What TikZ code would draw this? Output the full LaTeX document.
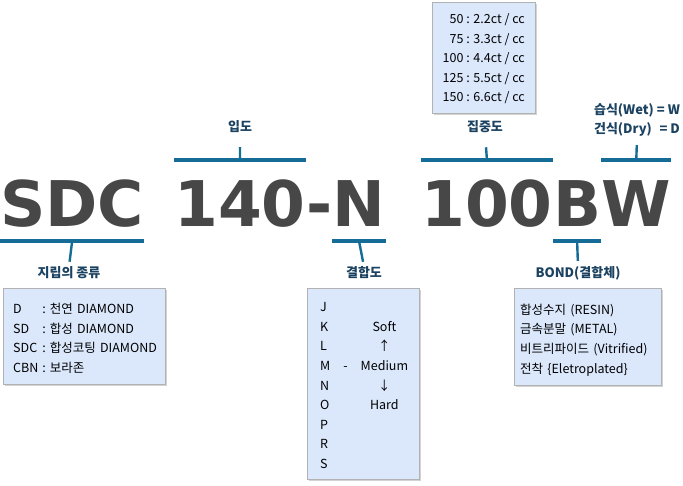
\documentclass[tikz,border=0pt]{standalone}
\usepackage{fontspec}
\setmainfont{Noto Sans CJK KR}
\newfontfamily\codefont{DejaVu Sans}
\usetikzlibrary{shadows}
\definecolor{barblue}{RGB}{21,108,150}
\definecolor{tagblue}{RGB}{27,66,97}
\definecolor{boxblue}{RGB}{219,232,252}
\definecolor{codegray}{RGB}{71,71,71}

\begin{document}
\begin{tikzpicture}[
    x=1pt, y=-1pt,
    code/.style={font=\codefont\bfseries\fontsize{63}{63}\selectfont, text=codegray, inner sep=0pt, anchor=base west},
    bar/.style={barblue, line width=3.2pt},
    tick/.style={barblue, line width=2.4pt},
    tag/.style={font=\bfseries\fontsize{13}{19}\selectfont, text=tagblue, inner sep=0pt, align=center},
    infobox/.style={draw=black!30, fill=boxblue, anchor=north west, inner sep=0pt, font=\fontsize{12.5}{19.6}\selectfont,
        drop shadow={shadow xshift=1.5pt, shadow yshift=-1.5pt, opacity=0.35}},
]

\useasboundingbox (0,0) rectangle (683,486);

% === Product code ===
\node[code] (grain) at (0,227) {SDC};
\node[code] (grit) at (174,227) {140};
\node[code] (dash) at (grit.base east) {-};
\node[code] (grade) at (dash.base east) {N};
\node[code] (conc) at (421,227) {100};
\node[code] (bond) at (conc.base east) {B};
\node[code] (wet) at (bond.base east) {W};

% === Brackets above ===
\draw[bar] (grit.west |- 0,160) -- (grit.east |- 0,160) coordinate[midway] (gritmid);
\draw[bar] (conc.west |- 0,160) -- (bond.west |- 0,160) coordinate[pos=0.5] (concmid);
\draw[bar] (wet.west |- 0,160) -- (wet.east |- 0,160) coordinate[midway] (wetmid);

% === Brackets below ===
\draw[bar] (grain.west |- 0,241) -- (grain.east |- 0,241) coordinate[midway] (grainmid);
\draw[bar] (grade.west |- 0,241) -- (grade.east |- 0,241) coordinate[midway] (grademid);
\draw[bar] (bond.west |- 0,241) -- (bond.east |- 0,241) coordinate[midway] (bondmid);

% === Labels ===
\node[tag] (grittag) at (240,127) {입도};
\node[tag] (conctag) at (485,127) {집중도};
\node[tag] (wettag) at (637,120) {\begin{tabular}{@{}l@{}r@{}}습식(Wet) & \ = W\\ 건식(Dry) & = D\end{tabular}};
\node[tag] (graintag) at (69,273) {지립의 종류};
\node[tag] (gradetag) at (364,273) {결합도};
\node[tag] (bondtag) at (578,273) {BOND(결합체)};

% === Ticks ===
\draw[tick, shorten >=14pt] (gritmid) -- (grittag.south);
\draw[tick, shorten >=14pt] (concmid) -- (conctag.south);
\draw[tick, shorten >=6pt] (wetmid) -- (wettag.south);
\draw[tick, shorten >=5pt] (grainmid) -- (graintag.north);
\draw[tick, shorten >=5pt] (grademid) -- (gradetag.north);
\draw[tick, shorten >=5pt] (bondmid) -- (bondtag.north);

% === Info boxes ===
\node[infobox, minimum width=103pt, minimum height=111pt] (concbox) at (432,2)
    {\begin{tabular}{@{}r@{ : }l@{}}\noalign{\vskip2pt}50 & 2.2ct / cc\\ 75 & 3.3ct / cc\\ 100 & 4.4ct / cc\\ 125 & 5.5ct / cc\\ 150 & 6.6ct / cc\end{tabular}};
\node[infobox, inner xsep=10pt, minimum height=96pt, text width=142pt, align=left] (grainbox) at (3,288)
    {\begin{tabular}{@{}l@{\hspace{4pt}:\hspace{4pt}}l@{}}\noalign{\vskip6pt}D & 천연 DIAMOND\\ SD & 합성 DIAMOND\\ SDC & 합성코팅 DIAMOND\\ CBN & 보라존\end{tabular}};
\node[infobox, inner xsep=13pt, minimum height=191pt, text width=86pt, align=left] (gradebox) at (307,288)
    {\begin{tabular}{@{}l@{\hspace{13pt}}c@{\hspace{13pt}}c@{}}\noalign{\vskip5pt}J\\ K & & Soft\\ L & & ↑\\ M & - & Medium\\ N & & ↓\\ O & & Hard\\ P\\ R\\ S\end{tabular}};
\node[infobox, inner xsep=6pt, minimum height=97pt, text width=135pt, align=left] (bondbox) at (514,288)
    {\begin{tabular}{@{}l@{}}\noalign{\vskip6pt}합성수지 (RESIN)\\ 금속분말 (METAL)\\ 비트리파이드 (Vitrified)\\ 전착 \{Eletroplated\}\end{tabular}};

\end{tikzpicture}
\end{document}
